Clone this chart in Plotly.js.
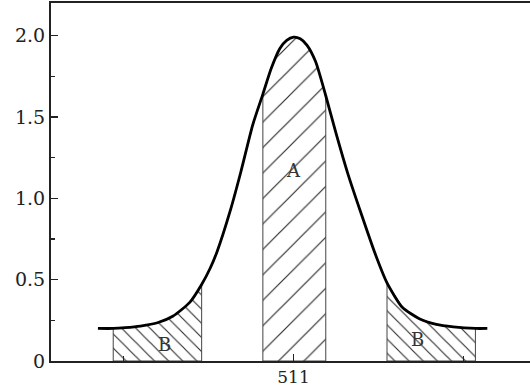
<!DOCTYPE html>
<html>
<head>
<meta charset="utf-8">
<script src="https://cdn.plot.ly/plotly-3.0.1.min.js"></script>
<style>html,body{margin:0;padding:0;background:#fff;}#chart{width:530px;height:389px;}</style>
</head>
<body>
<div id="chart"></div>
<script>
// Energy (keV) and intensity
const curveX = [499.5, 500.4, 501.1, 502.0, 503.0, 503.9, 504.9, 505.6, 506.1, 506.5, 507.3, 507.9, 508.6, 509.2, 509.7, 510.2, 510.6, 511.0, 511.4, 511.8, 512.3, 512.9, 513.5, 514.2, 515.0, 515.8, 516.5, 517.4, 518.4, 519.4, 520.4, 521.7, 522.4];
const curveY = [0.20, 0.20, 0.205, 0.215, 0.235, 0.275, 0.36, 0.47, 0.57, 0.67, 0.93, 1.16, 1.45, 1.64, 1.80, 1.92, 1.97, 1.99, 1.98, 1.94, 1.84, 1.63, 1.40, 1.15, 0.90, 0.66, 0.48, 0.33, 0.26, 0.225, 0.21, 0.20, 0.20];

// shaded regions: label, start, end, hatch
const regionNames = ['B', 'A', 'B'];
const regionStart = [500.4, 509.2, 516.5];
const regionEnd = [505.6, 512.9, 521.7];
const regionHatch = ['\\', '/', '\\'];
const labelX = [503.4, 511.0, 518.3];
const labelY = [0.10, 1.17, 0.13];

const xTickVals = [511];
const xTickText = ['511'];
const xMinorVals = [501, 521];
const yTickVals = [0, 0.5, 1.0, 1.5, 2.0];
const yTickText = ['0', '0.5', '1.0', '1.5', '2.0'];
const yMinorVals = [0.25, 0.75, 1.25, 1.75];

const traces = [];
regionStart.forEach((x0, i) => {
  const x1 = regionEnd[i];
  const px = [], py = [];
  px.push(x0); py.push(0);
  curveX.forEach((x, j) => {
    if (x >= x0 - 1e-9 && x <= x1 + 1e-9) { px.push(x); py.push(curveY[j]); }
  });
  px.push(x1); py.push(0);
  px.push(x0); py.push(0);
  const isA = regionHatch[i] === '/';
  traces.push({
    x: px, y: py, type: 'scatter', mode: 'lines',
    fill: 'toself', fillcolor: 'rgba(0,0,0,0)',
    fillpattern: {shape: regionHatch[i], size: isA ? 18 : 10, solidity: isA ? 0.065 : 0.11,
                  fgcolor: '#2a2a2a', bgcolor: 'white', fillmode: 'replace'},
    line: {color: '#444', width: 1},
    hoverinfo: 'skip', showlegend: false
  });
});
traces.push({
  x: curveX, y: curveY, type: 'scatter', mode: 'lines',
  line: {color: '#000', width: 2.8, shape: 'spline', smoothing: 0.6},
  showlegend: false
});

const annotations = regionNames.map((t, i) => ({
  x: labelX[i], y: labelY[i], text: t, showarrow: false,
  font: {family: 'DejaVu Serif', size: 18, color: '#333'}, bgcolor: 'rgba(0,0,0,0)'
}));

const layout = {
  width: 530, height: 389,
  margin: {l: 51, r: 0, t: 3, b: 28, pad: 0},
  paper_bgcolor: '#fff', plot_bgcolor: '#fff',
  showlegend: false,
  font: {family: 'DejaVu Serif', size: 19, color: '#222'},
  xaxis: {
    range: [496.74, 524.91], showgrid: false, zeroline: false,
    showline: true, mirror: true, linecolor: '#222', linewidth: 2,
    tickmode: 'array', tickvals: xTickVals, ticktext: xTickText,
    ticks: 'inside', ticklen: 7, tickwidth: 1.5, tickcolor: '#222',
    minor: {tickmode: 'array', tickvals: xMinorVals, ticks: 'inside', ticklen: 5, tickwidth: 1.2, tickcolor: '#222', showgrid: false},
    tickfont: {family: 'DejaVu Serif', size: 17, color: '#222'}
  },
  yaxis: {
    range: [0, 2.2], showgrid: false, zeroline: false,
    showline: true, linecolor: '#222', linewidth: 2,
    tickmode: 'array', tickvals: yTickVals, ticktext: yTickText,
    ticks: 'inside', ticklen: 7, tickwidth: 1.5, tickcolor: '#222',
    minor: {tickmode: 'array', tickvals: yMinorVals, ticks: 'inside', ticklen: 4, tickwidth: 1.2, tickcolor: '#222', showgrid: false},
    tickfont: {family: 'DejaVu Serif', size: 19, color: '#222'}
  },
  annotations: annotations
};

Plotly.newPlot('chart', traces, layout, {staticPlot: true, displayModeBar: false});
</script>
</body>
</html>
